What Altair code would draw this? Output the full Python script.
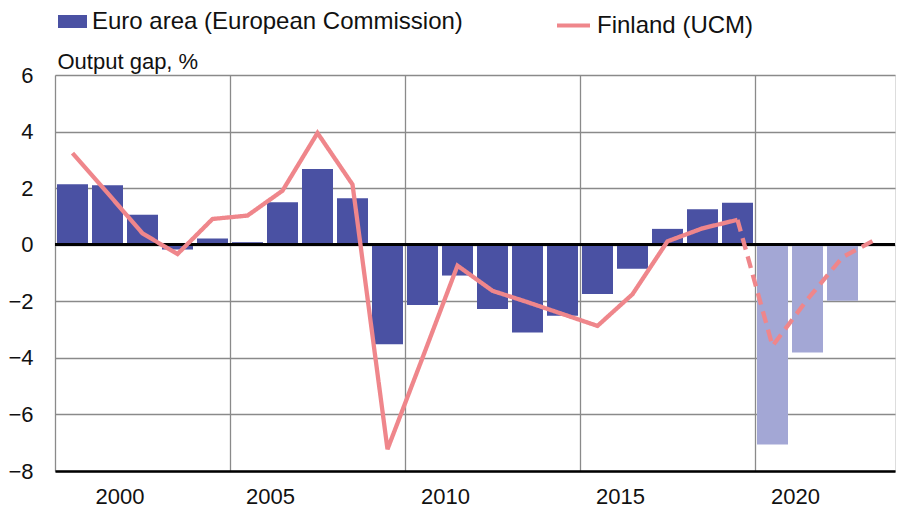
import altair as alt
import pandas as pd

# ---- data ----
years = list(range(2000, 2023))
euro_area = [2.14, 2.10, 1.06, -0.17, 0.22, 0.09, 1.50, 2.68, 1.64, -3.52,
             -2.13, -1.09, -2.27, -3.10, -2.51, -1.74, -0.85, 0.56, 1.25, 1.48,
             -7.06, -3.81, -1.98]
forecast_start = 2020

fin_years = list(range(2000, 2024))
finland = [3.24, 1.83, 0.40, -0.33, 0.91, 1.03, 1.91, 3.95, 2.13, -7.23,
           -4.00, -0.74, -1.63, -2.03, -2.45, -2.87, -1.75, 0.12, 0.58, 0.88,
           -3.58, -1.93, -0.44, 0.22]
fin_last_actual = 2019

y_ticks = [-8, -6, -4, -2, 0, 2, 4, 6]
x_ticks = [2000, 2005, 2010, 2015, 2020]

EA_NAME = "Euro area (European Commission)"
EA_FC = "Euro area forecast"
FI_NAME = "Finland (UCM)"

FONT = "Liberation Sans"
DARK = "#4a51a3"
LIGHT = "#a3a7d5"
PINK = "#ef868b"

# ---- tables ----
bars = pd.DataFrame({
    "year": years,
    "year_end": [y + 1 for y in years],
    "value": euro_area,
    "kind": [EA_FC if y >= forecast_start else EA_NAME for y in years],
})

rows = []
for y, v in zip(fin_years, finland):
    if y <= fin_last_actual:
        rows.append({"year": y, "value": v, "seg": "actual", "series": FI_NAME})
    if y >= fin_last_actual:
        rows.append({"year": y, "value": v, "seg": "forecast", "series": FI_NAME})
line_df = pd.DataFrame(rows)

xscale = alt.Scale(domain=[2000, 2024], nice=False, zero=False)
yscale = alt.Scale(domain=[-8, 6], nice=False)

bar_layer = alt.Chart(bars).mark_bar(xOffset=2, x2Offset=-2).encode(
    x=alt.X("year:Q", scale=xscale,
            axis=alt.Axis(values=x_ticks, format="d", title=None,
                          labelFontSize=22, labelFont=FONT, labelColor="#111",
                          labelPadding=15, labelOffset=40, ticks=False, tickSize=0,
                          domainColor="#000", domainWidth=2.5,
                          grid=True, gridColor="#8a8a8a", gridWidth=1.3)),
    x2="year_end:Q",
    y=alt.Y("value:Q", scale=yscale,
            axis=alt.Axis(values=y_ticks, title="Output gap, %",
                          titleAngle=0, titleAlign="left", titleBaseline="alphabetic",
                          titleX=2, titleY=-7, titleFontSize=22, titleFont=FONT,
                          titleFontWeight="normal", titleColor="#111",
                          labelFontSize=22, labelFont=FONT, labelColor="#111",
                          labelPadding=22, ticks=False, tickSize=0, domain=False,
                          grid=True, gridColor="#8a8a8a", gridWidth=1.3)),
    y2=alt.datum(0),
    fill=alt.Fill("kind:N",
                  scale=alt.Scale(domain=[EA_NAME, EA_FC], range=[DARK, LIGHT]),
                  legend=alt.Legend(values=[EA_NAME], title=None, orient="none",
                                    legendX=3, legendY=-68,
                                    symbolType="M-1,-0.45H1V0.45H-1Z", symbolSize=841,
                                    symbolStrokeWidth=0, labelFontSize=24,
                                    labelFont=FONT, labelColor="#111", labelOffset=5,
                                    labelLimit=600, padding=0)),
)

zero_layer = alt.Chart(bars).mark_rule(color="#000", strokeWidth=2).encode(
    y=alt.datum(0, scale=yscale)
)

line_layer = alt.Chart(line_df).transform_calculate(
    xmid="datum.year + 0.5"
).mark_line(strokeWidth=4.3, strokeCap="butt", strokeJoin="miter").encode(
    x=alt.X("xmid:Q", scale=xscale),
    y=alt.Y("value:Q", scale=yscale),
    stroke=alt.Stroke("series:N", scale=alt.Scale(domain=[FI_NAME], range=[PINK]),
                      legend=alt.Legend(title=None, orient="none",
                                        legendX=500, legendY=-68,
                                        symbolType="stroke", symbolSize=1089,
                                        symbolStrokeWidth=4, labelFontSize=24,
                                        labelFont=FONT, labelColor="#111",
                                        labelOffset=5, labelLimit=400, padding=0)),
    strokeDash=alt.StrokeDash("seg:N",
                              scale=alt.Scale(domain=["actual", "forecast"],
                                              range=[[1, 0], [12, 7]]),
                              legend=None),
    detail="seg:N",
    order="year:Q",
)

chart = alt.layer(bar_layer, zero_layer, line_layer).resolve_scale(
    fill="independent", stroke="independent"
).properties(
    width=840, height=396,
    autosize=alt.AutoSizeParams(type="none"),
    padding={"left": 47, "top": 67, "right": 6, "bottom": 36},
).configure_view(
    stroke="#333", strokeWidth=1.6
).configure(background="white")

chart.save("out.html", embed_options={"renderer": "svg", "actions": False})
